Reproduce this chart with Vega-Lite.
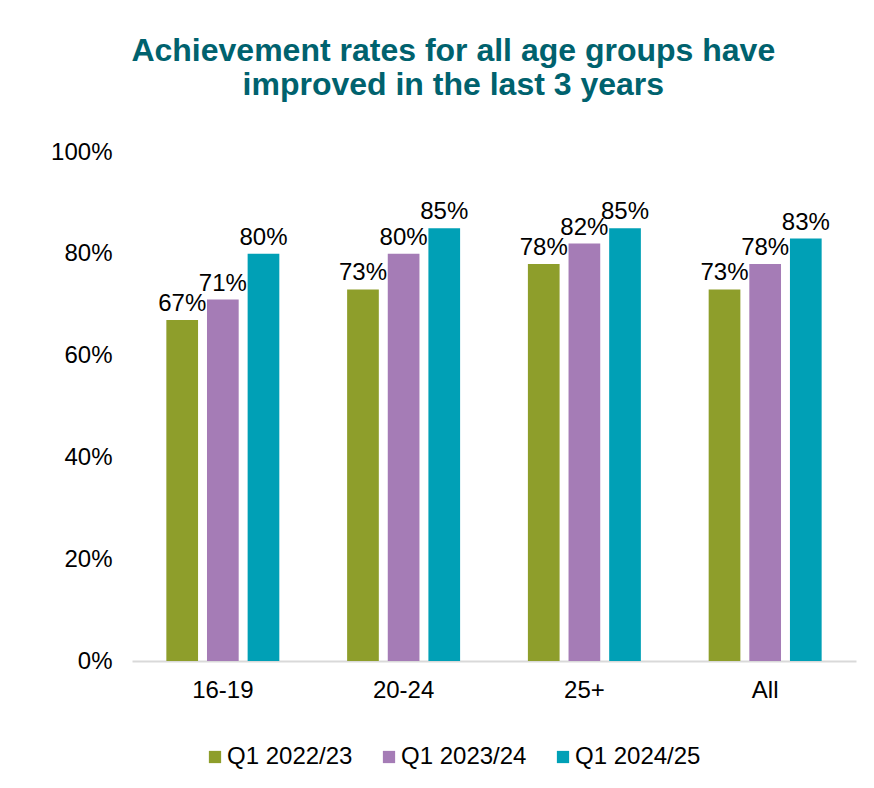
{
  "$schema": "https://vega.github.io/schema/vega-lite/v6.json",
  "width": 724,
  "height": 509,
  "padding": {"left": 50, "top": 35, "right": 19, "bottom": 10},
  "background": "white",
  "title": {
    "text": ["Achievement rates for all age groups have", "improved in the last 3 years"],
    "font": "Liberation Sans",
    "fontSize": 32,
    "fontWeight": "bold",
    "color": "#00626E",
    "anchor": "middle",
    "frame": "bounds",
    "lineHeight": 34,
    "offset": 38
  },
  "data": {
    "values": [
      {"group": "16-19", "period": "Q1 2022/23", "rate": 0.67},
      {"group": "16-19", "period": "Q1 2023/24", "rate": 0.71},
      {"group": "16-19", "period": "Q1 2024/25", "rate": 0.80},
      {"group": "20-24", "period": "Q1 2022/23", "rate": 0.73},
      {"group": "20-24", "period": "Q1 2023/24", "rate": 0.80},
      {"group": "20-24", "period": "Q1 2024/25", "rate": 0.85},
      {"group": "25+", "period": "Q1 2022/23", "rate": 0.78},
      {"group": "25+", "period": "Q1 2023/24", "rate": 0.82},
      {"group": "25+", "period": "Q1 2024/25", "rate": 0.85},
      {"group": "All", "period": "Q1 2022/23", "rate": 0.73},
      {"group": "All", "period": "Q1 2023/24", "rate": 0.78},
      {"group": "All", "period": "Q1 2024/25", "rate": 0.83}
    ]
  },
  "encoding": {
    "x": {
      "field": "group",
      "type": "nominal",
      "sort": null,
      "scale": {"paddingInner": 0.375, "paddingOuter": 0.19},
      "axis": {
        "title": null,
        "labelAngle": 0,
        "ticks": false,
        "labelPadding": 17,
        "labelFont": "Liberation Sans",
        "labelFontSize": 24,
        "labelColor": "#000000",
        "domainColor": "#D9D9D9",
        "domainWidth": 2
      }
    },
    "xOffset": {
      "field": "period",
      "type": "nominal",
      "sort": null,
      "scale": {"paddingInner": 0.22, "paddingOuter": 0}
    },
    "y": {
      "field": "rate",
      "type": "quantitative",
      "scale": {"domain": [0, 1]},
      "axis": {
        "title": null,
        "values": [0, 0.2, 0.4, 0.6, 0.8, 1],
        "format": ".0%",
        "grid": false,
        "domain": false,
        "ticks": false,
        "labelPadding": 20,
        "labelFont": "Liberation Sans",
        "labelFontSize": 24,
        "labelColor": "#000000"
      }
    }
  },
  "layer": [
    {
      "mark": {"type": "bar"},
      "encoding": {
        "color": {
          "field": "period",
          "type": "nominal",
          "sort": null,
          "scale": {
            "domain": ["Q1 2022/23", "Q1 2023/24", "Q1 2024/25"],
            "range": ["#8E9E2B", "#A57CB6", "#00A0B6"]
          },
          "legend": {
            "title": null,
            "orient": "none",
            "direction": "horizontal",
            "legendX": 71,
            "legendY": 593,
            "symbolType": "square",
            "symbolSize": 150,
            "symbolStrokeWidth": 0,
            "symbolOpacity": 1,
            "labelFont": "Liberation Sans",
            "labelFontSize": 24,
            "labelColor": "#000000",
            "labelOffset": 0,
            "columnPadding": 24,
            "labelLimit": 300
          }
        }
      }
    },
    {
      "mark": {
        "type": "text",
        "baseline": "bottom",
        "dy": -4,
        "font": "Liberation Sans",
        "fontSize": 24,
        "color": "#000000"
      },
      "encoding": {
        "text": {"field": "rate", "type": "quantitative", "format": ".0%"}
      }
    }
  ],
  "config": {
    "view": {"stroke": null}
  }
}
